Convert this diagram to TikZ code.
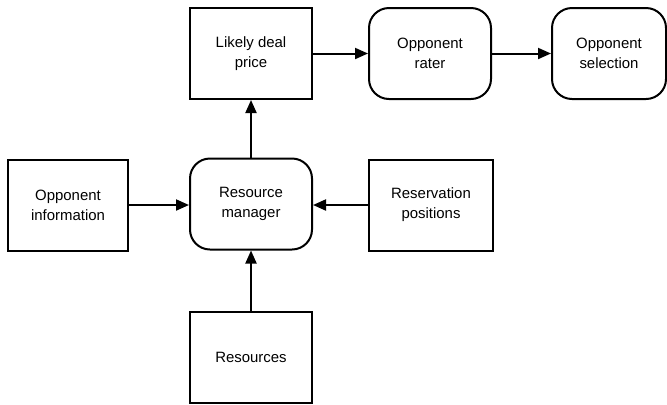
\documentclass[tikz,border=0pt]{standalone}
\usepackage{fontspec}
\setmainfont{Liberation Sans}
\usetikzlibrary{arrows.meta}
\begin{document}
\begin{tikzpicture}[x=1bp,y=-1bp,
  every node/.style={font=\fontsize{15}{20}\selectfont, align=center, inner sep=0pt},
  block/.style={draw, line width=2bp, minimum width=122bp, minimum height=91bp},
  proc/.style={block, rounded corners=20bp},
  flow/.style={line width=2bp, -{Triangle[length=13bp,width=11bp]}}]
\useasboundingbox (0,0) rectangle (667,404);
\node[block] (price) at (251,53.5) {Likely deal\\price};
\node[proc] (rater) at (430,53.5) {Opponent\\rater};
\node[proc, minimum width=114bp] (select) at (609,53.5) {Opponent\\selection};
\node[block, minimum width=120bp] (info) at (68,205) {Opponent\\information};
\node[proc] (manager) at (251,204) {Resource\\manager};
\node[block, minimum width=124bp] (reserve) at (431,205) {Reservation\\positions};
\node[block] (res) at (251,357.5) {Resources};
\draw[flow] (price) -- (rater);
\draw[flow] (rater) -- (select);
\draw[flow] (manager) -- (price);
\draw[flow] (info.east) -- (info.east -| manager.west);
\draw[flow] (reserve.west) -- (reserve.west -| manager.east);
\draw[flow] (res) -- (manager);
\end{tikzpicture}
\end{document}
